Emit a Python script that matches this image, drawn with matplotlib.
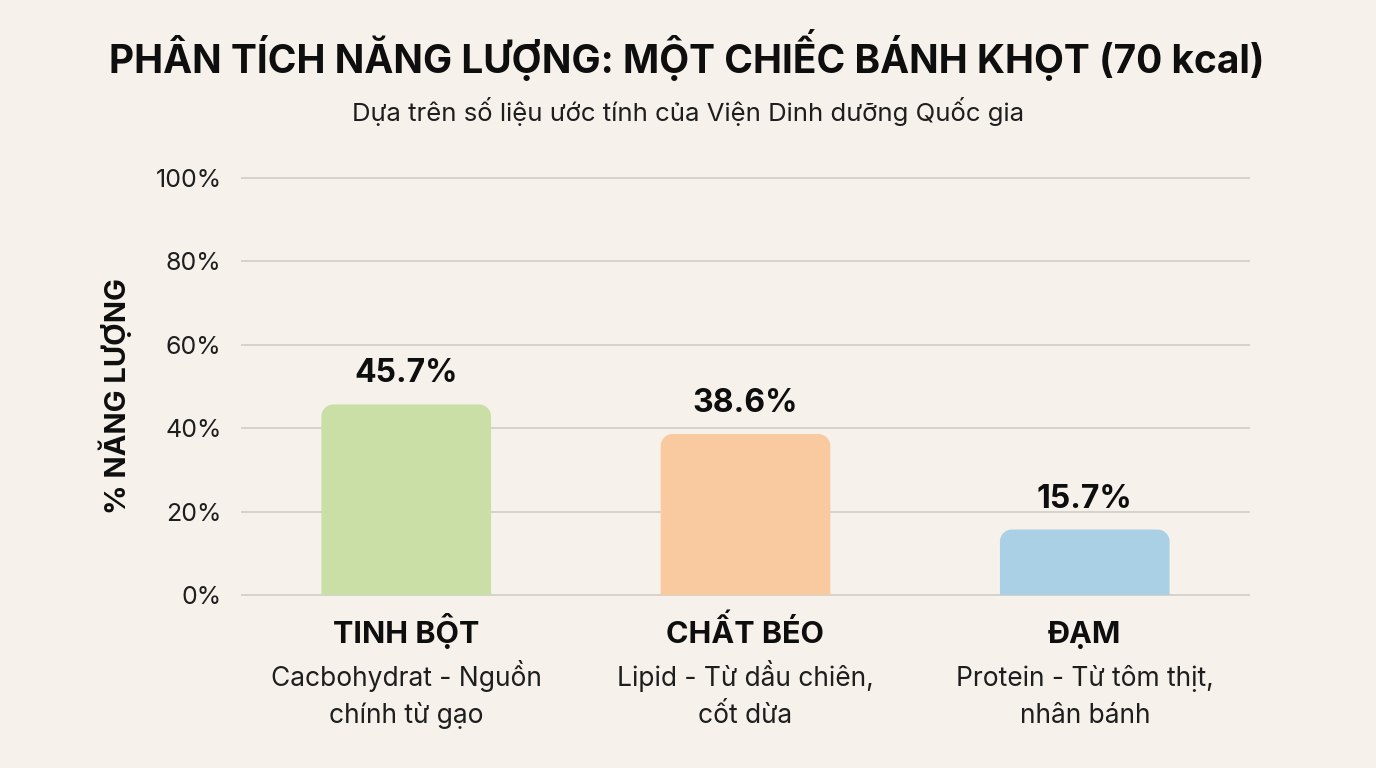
import matplotlib
matplotlib.use("Agg")
import matplotlib.pyplot as plt
from matplotlib.path import Path
from matplotlib.patches import PathPatch

categories = ["TINH BỘT", "CHẤT BÉO", "ĐẠM"]
descriptions = ["Cacbohydrat - Nguồn\nchính từ gạo",
                "Lipid - Từ dầu chiên,\ncốt dừa",
                "Protein - Từ tôm thịt,\nnhân bánh"]
values = [45.7, 38.6, 15.7]
value_labels = ["45.7%", "38.6%", "15.7%"]
bar_colors = ["#C9DFA5", "#F9C9A0", "#A9D0E4"]
yticks = [0, 20, 40, 60, 80, 100]
ytick_labels = ["0%", "20%", "40%", "60%", "80%", "100%"]
title = "PHÂN TÍCH NĂNG LƯỢNG: MỘT CHIẾC BÁNH KHỌT (70 kcal)"
subtitle = "Dựa trên số liệu ước tính của Viện Dinh dưỡng Quốc gia"
ylabel = "% NĂNG LƯỢNG"

BG = "#F6F1EB"
TXT = "#0E0E0E"
plt.rcParams['font.family'] = ['Inter', 'DejaVu Sans']

fig = plt.figure(figsize=(13.76, 7.68), dpi=100, facecolor=BG)
ax = fig.add_axes([241/1376, 1-595/768, (1250-241)/1376, (595-178)/768])
ax.set_facecolor(BG)
ax.set_xlim(-0.487, 2.487)
ax.set_ylim(0, 100)
for s in ax.spines.values():
    s.set_visible(False)
ax.hlines(yticks, -0.487, 2.487, colors="#D3CFCB", linewidth=1.3, zorder=0, clip_on=False)
ax.set_yticks(yticks)
ax.set_yticklabels(ytick_labels, fontsize=18, color="#1E1E1E")
ax.tick_params(axis='y', length=0, pad=14)
ax.set_xticks([])

fig.canvas.draw()
width = 0.5
px_x = ax.transData.transform((1, 0))[0] - ax.transData.transform((0, 0))[0]
px_y = ax.transData.transform((0, 1))[1] - ax.transData.transform((0, 0))[1]
r_px = 12
rx = r_px / px_x
ry = r_px / px_y

def rounded_top(x0, x1, h):
    k = 0.5523
    verts = [(x0, 0), (x0, h - ry),
             (x0, h - ry + k * ry), (x0 + rx - k * rx, h), (x0 + rx, h),
             (x1 - rx, h),
             (x1 - rx + k * rx, h), (x1, h - ry + k * ry), (x1, h - ry),
             (x1, 0), (x0, 0)]
    codes = [Path.MOVETO, Path.LINETO,
             Path.CURVE4, Path.CURVE4, Path.CURVE4,
             Path.LINETO,
             Path.CURVE4, Path.CURVE4, Path.CURVE4,
             Path.LINETO, Path.CLOSEPOLY]
    return Path(verts, codes)

PT = 72 / 100  # points per pixel

bars = ax.bar(range(len(values)), values, width=width, color="none", edgecolor="none")
for b, c, v, lab in zip(bars, bar_colors, values, value_labels):
    x0 = b.get_x()
    x1 = x0 + b.get_width()
    ax.add_patch(PathPatch(rounded_top(x0, x1, b.get_height()), facecolor=c,
                           edgecolor="none", zorder=2))
    ax.annotate(lab, (b.get_x() + b.get_width() / 2, v), xytext=(0, 22 * PT),
                textcoords="offset points", ha="center", va="baseline",
                fontsize=23, fontweight="bold", color=TXT)

for i, (cat, desc) in enumerate(zip(categories, descriptions)):
    ax.annotate(cat, (i, 0), xytext=(0, -48 * PT), textcoords="offset points",
                ha="center", va="baseline", fontsize=22, fontweight="bold",
                color=TXT, annotation_clip=False)
    for j, line in enumerate(desc.split("\n")):
        ax.annotate(line, (i, 0), xytext=(0, -(91 + 37 * j) * PT),
                    textcoords="offset points", ha="center", va="baseline",
                    fontsize=19, color="#1E1E1E", annotation_clip=False)

fig.text(687/1376, 1-73/768, title, ha="center", va="baseline",
         fontsize=28, fontweight="bold", color=TXT)
fig.text(688/1376, 1-121/768, subtitle, ha="center", va="baseline",
         fontsize=18.5, color="#1E1E1E")
fig.text(115/1376, 1-396/768, ylabel, ha="center", va="center", rotation=90,
         fontsize=21, fontweight="bold", color=TXT)

fig.savefig("out.png", dpi=100, facecolor=BG)
